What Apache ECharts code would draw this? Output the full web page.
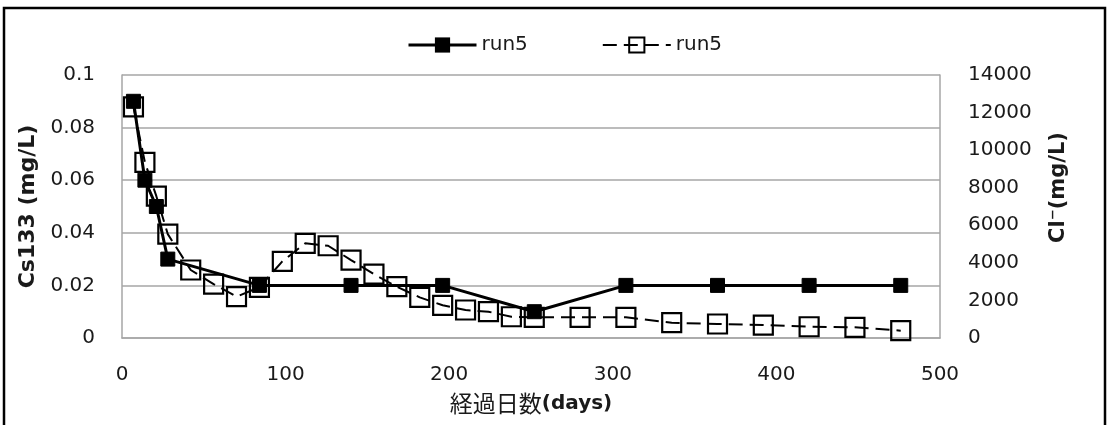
<!DOCTYPE html>
<html>
<head>
<meta charset="utf-8">
<script src="https://cdn.jsdelivr.net/npm/echarts@6/dist/echarts.min.js"></script>
<style>
html,body{margin:0;padding:0;background:#fff;}
#c{width:1108px;height:425px;}
</style>
</head>
<body>
<div id="c"></div>
<script>
// ---- data ----
const xTicks = [0, 100, 200, 300, 400, 500];
const csDays = [7, 14, 21, 28, 84, 140, 196, 252, 308, 364, 420, 476];
const csValues = [0.09, 0.06, 0.05, 0.03, 0.02, 0.02, 0.02, 0.01, 0.02, 0.02, 0.02, 0.02];
const clDays = [7, 14, 21, 28, 42, 56, 70, 84, 98, 112, 126, 140, 154, 168, 182, 196, 210, 224, 238, 252, 280, 308, 336, 364, 392, 420, 448, 476];
const clValues = [12300, 9350, 7550, 5530, 3620, 2870, 2200, 2700, 4080, 5040, 4910, 4150, 3400, 2730, 2165, 1740, 1490, 1400, 1130, 1100, 1100, 1100, 814, 745, 690, 600, 570, 390];
const seriesNames = ['run5', 'run5 '];
const leftTitle = 'Cs133 (mg/L)';
const rightTitle = 'Cl\u207B(mg/L)';
const xTitleJa = '経過日数';
const xTitleEn = '(days)';

const csData = csDays.map((d, i) => [d, csValues[i]]);
const clData = clDays.map((d, i) => [d, clValues[i]]);

const chart = echarts.init(document.getElementById('c'));
const tickFont = { fontFamily: 'DejaVu Sans', fontSize: 20, color: '#1a1a1a' };
const gridColor = '#a6a6a6';
const plain = function (v) { return String(v); };

chart.setOption({
  animation: false,
  backgroundColor: '#ffffff',
  grid: { left: 122, right: 168, top: 75, bottom: 87, containLabel: false },
  legend: {
    data: [
      { name: seriesNames[0], lineStyle: { width: 3 } },
      { name: seriesNames[1], lineStyle: { width: 2 } }
    ],
    left: 402, top: 30,
    itemWidth: 68, itemHeight: 19, itemGap: 74,
    textStyle: { fontFamily: 'DejaVu Sans', fontSize: 20, color: '#1a1a1a' },
    formatter: function (n) { return n.trim(); }
  },
  xAxis: {
    type: 'value', min: 0, max: 500, interval: 100,
    axisLine: { show: true, lineStyle: { color: gridColor, width: 1.5 } },
    axisTick: { show: false },
    splitLine: { show: false },
    axisLabel: Object.assign({ margin: 27, formatter: plain }, tickFont),
    name: '{ja|' + xTitleJa + '}{en|' + xTitleEn + '}',
    nameLocation: 'middle', nameGap: 54,
    nameTextStyle: {
      rich: {
        ja: { fontFamily: 'Noto Sans CJK JP', fontSize: 23, color: '#1a1a1a' },
        en: { fontFamily: 'DejaVu Sans', fontWeight: 'bold', fontSize: 20, color: '#1a1a1a' }
      }
    }
  },
  yAxis: [
    {
      type: 'value', min: 0, max: 0.1, interval: 0.02,
      axisLine: { show: true, lineStyle: { color: gridColor, width: 1.5 } },
      axisTick: { show: false },
      splitLine: { show: true, lineStyle: { color: gridColor, width: 1.5 } },
      axisLabel: Object.assign({ margin: 27 }, tickFont),
      name: leftTitle, nameLocation: 'middle', nameRotate: 90, nameGap: 80,
      nameTextStyle: { fontFamily: 'DejaVu Sans', fontWeight: 'bold', fontSize: 22, color: '#1a1a1a' }
    },
    {
      type: 'value', min: 0, max: 14000, interval: 2000, position: 'right',
      axisLine: { show: true, lineStyle: { color: gridColor, width: 1.5 } },
      axisTick: { show: false },
      splitLine: { show: false },
      axisLabel: Object.assign({ margin: 28, formatter: plain }, tickFont),
      name: rightTitle, nameLocation: 'middle', nameRotate: 90, nameGap: 108,
      nameTextStyle: { fontFamily: 'DejaVu Sans', fontWeight: 'bold', fontSize: 21, color: '#1a1a1a', padding: [0, 0, 0, 38] }
    }
  ],
  series: [
    {
      name: seriesNames[1], type: 'line', yAxisIndex: 1, data: clData,
      symbol: 'rect', symbolSize: 19,
      lineStyle: { color: '#000', width: 2, type: [14, 7] },
      itemStyle: { color: 'rgba(255,255,255,0)', borderColor: '#000', borderWidth: 2.2 },
      z: 2
    },
    {
      name: seriesNames[0], type: 'line', yAxisIndex: 0, data: csData,
      symbol: 'rect', symbolSize: 14,
      lineStyle: { color: '#000', width: 3 },
      itemStyle: { color: '#000', borderColor: '#000' },
      z: 3
    }
  ],
  graphic: [
    {
      type: 'rect', silent: true, z: 100,
      shape: { x: 4, y: 8, width: 1101, height: 440 },
      style: { fill: 'none', stroke: '#000', lineWidth: 2.5 }
    }
  ]
});
</script>
</body>
</html>
